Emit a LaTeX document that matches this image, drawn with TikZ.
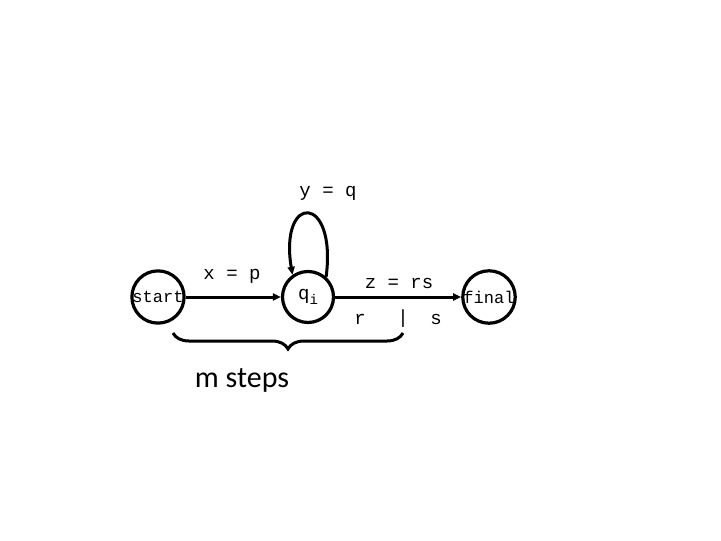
\documentclass[tikz,border=0pt]{standalone}
\usepackage{fontspec}
\setmonofont{Liberation Mono}
\newfontfamily\stepsfont{Carlito}
\usetikzlibrary{arrows.meta,decorations.pathreplacing}
\begin{document}
\begin{tikzpicture}[x=1pt,y=-1pt,
  state/.style={draw,circle,line width=3.2pt,minimum size=51pt,inner sep=0pt,
    font=\ttfamily\fontsize{17}{17}\selectfont},
  lbl/.style={font=\ttfamily\fontsize{19}{19}\selectfont,inner sep=0pt},
  conn/.style={line width=3pt,-{Triangle[length=8pt,width=7pt]}}]
\useasboundingbox (0,0) rectangle (721,541);
\node[state] (start) at (158,297) {start};
\node[state] (qi) at (308,297) {\fontsize{19}{19}\selectfont q\raisebox{-0.45ex}{\fontsize{14}{14}\selectfont i}};
\node[state] (final) at (489,297) {final};
\draw[conn] (start) -- (qi);
\draw[conn] (qi) -- (final);
\draw[conn] (qi.48) .. controls (337,193) and (279,193) .. (qi.125);
\node[lbl] (ly) at (328,193) {y = q};
\node[lbl] (lx) at (232,276) {x = p};
\node[lbl] (lz) at (399,283) {z = rs};
\node[lbl] (lr) at (360,319) {r};
\node[lbl] (lbar) at (403,319) {|};
\node[lbl] (ls) at (436,319) {s};
\coordinate (bl) at (173,333);
\coordinate (br) at (403,333);
\draw[line width=3pt,decorate,decoration={brace,mirror,amplitude=16pt,aspect=0.5}] (bl) -- (br);
\node[font=\stepsfont\fontsize{30}{30}\selectfont,inner sep=0pt] (steps) at (242,380) {m steps};
\end{tikzpicture}
\end{document}
